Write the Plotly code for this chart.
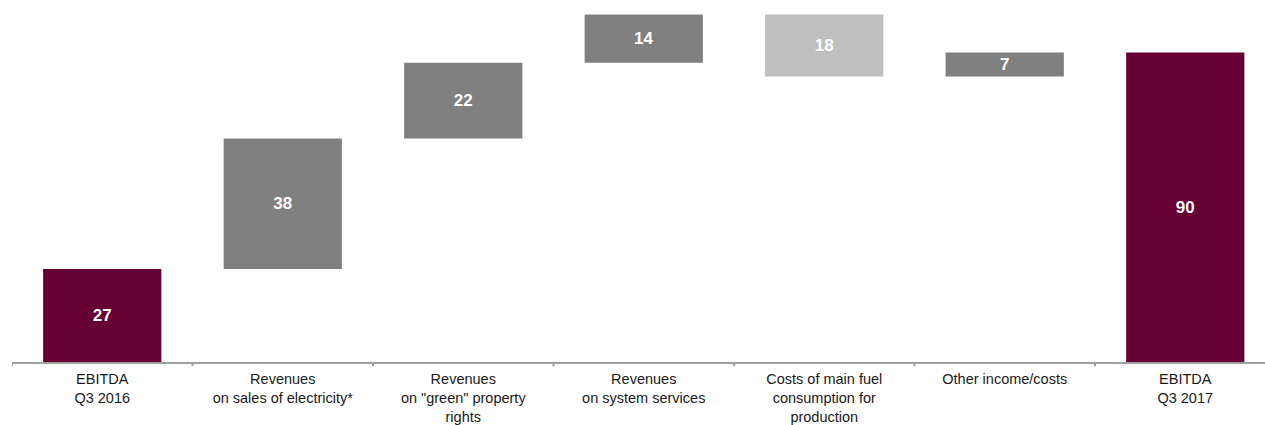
import plotly.graph_objects as go

# EBITDA bridge, Q3 2016 -> Q3 2017
categories = [
    "EBITDA<br>Q3 2016",
    "Revenues<br>on sales of electricity*",
    "Revenues<br>on \"green\" property<br>rights",
    "Revenues<br>on system services",
    "Costs of main fuel<br>consumption for<br>production",
    "Other income/costs",
    "EBITDA<br>Q3 2017",
]
values = [27, 38, 22, 14, -18, 7, 90]
measures = ["absolute", "relative", "relative", "relative", "relative", "relative", "total"]
labels = ["27", "38", "22", "14", "18", "7", "90"]

MAROON = "#660033"
GREY = "#808080"
LIGHT_GREY = "#bfbfbf"
FONT = "Liberation Sans, Arial, sans-serif"

fig = go.Figure(
    go.Waterfall(
        x=list(range(len(categories))),
        y=values,
        measure=measures,
        text=labels,
        textposition="inside",
        insidetextanchor="middle",
        textangle=0,
        constraintext="none",
        textfont=dict(family=FONT, size=17, color="white"),
        texttemplate="<b>%{text}</b>",
        width=0.655,
        increasing=dict(marker=dict(color=GREY, line=dict(width=0))),
        decreasing=dict(marker=dict(color=LIGHT_GREY, line=dict(width=0))),
        totals=dict(marker=dict(color=MAROON, line=dict(width=0))),
        connector=dict(visible=False),
        hoverinfo="skip",
    )
)

plot_w = 1265 - 12
cat_px = 180.5
fig.update_layout(
    width=1265,
    height=425,
    margin=dict(l=12, r=0, t=0, b=63),
    paper_bgcolor="white",
    plot_bgcolor="white",
    showlegend=False,
    uniformtext=dict(minsize=17, mode="show"),
    xaxis=dict(
        tickmode="array",
        tickvals=list(range(len(categories))),
        ticktext=categories,
        range=[-0.5, -0.5 + plot_w / cat_px],
        showgrid=False,
        zeroline=False,
        showline=True,
        linecolor="#a0a0a0",
        linewidth=2,
        ticks="",
        ticklabelstandoff=3,
        automargin=False,
        tickfont=dict(family=FONT, size=14.5, color="#1a1a1a"),
        fixedrange=True,
    ),
    yaxis=dict(
        range=[0, 362 / 3.44],
        visible=False,
        fixedrange=True,
        automargin=False,
    ),
)

# short tick marks at the category boundaries
for i in range(len(categories)):
    b = i - 0.5
    fig.add_shape(
        type="line",
        xref="x",
        yref="paper",
        x0=b, x1=b,
        y0=0, y1=-0.012,
        line=dict(color="#a0a0a0", width=2),
    )

fig.write_html("out.html")
